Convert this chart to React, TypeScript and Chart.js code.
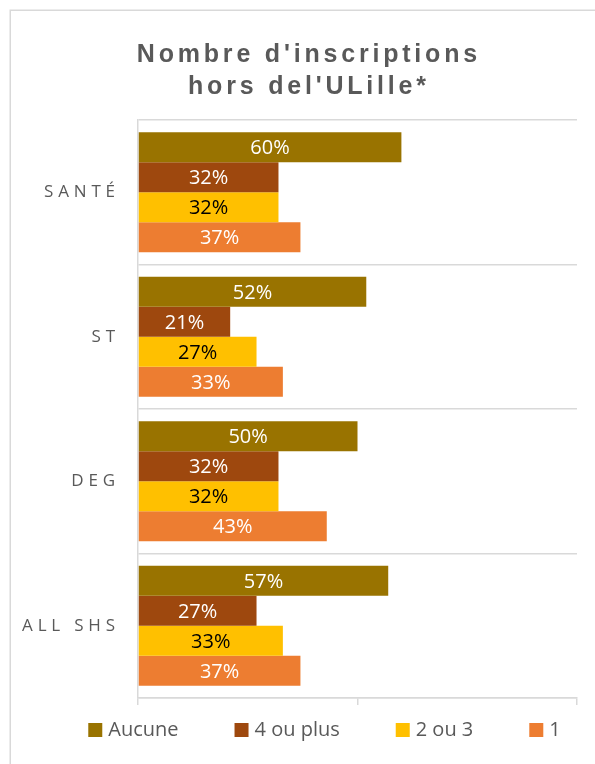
import React, { useEffect, useRef } from 'react';
import { Chart, registerables } from 'chart.js';

Chart.register(...registerables);

const categories = ['SANTÉ', 'ST', 'DEG', 'ALL SHS'];
const seriesNames = ['Aucune', '4 ou plus', '2 ou 3', '1'];
const aucune = [60, 52, 50, 57];
const quatreOuPlus = [32, 21, 32, 27];
const deuxOuTrois = [32, 27, 32, 33];
const un = [37, 33, 43, 37];
const seriesColors = ['#997300', '#9E480E', '#FFC000', '#ED7D31'];
const valueLabelColors = ['#FFFFFF', '#FFFFFF', '#000000', '#FFFFFF'];
const titleLines = ["Nombre d'inscriptions", "hors del'ULille*"];
const xMin = 0;
const xMax = 100;
const xStep = 50;

const TEXT_GREY = '#595959';
const LINE_GREY = '#d9d9d9';
const SANS = '"Open Sans", "Noto Sans", sans-serif';

function spacedWidth(ctx: CanvasRenderingContext2D, text: string, spacing: number) {
  (ctx as any).letterSpacing = '0px';
  const w = ctx.measureText(text).width;
  return w + spacing * Math.max(0, Array.from(text).length - 1);
}

function drawSpaced(ctx: CanvasRenderingContext2D, text: string, x: number, y: number, spacing: number) {
  (ctx as any).letterSpacing = spacing + 'px';
  ctx.textAlign = 'left';
  ctx.fillText(text, x, y);
  (ctx as any).letterSpacing = '0px';
}

const framePlugin = {
  id: 'frame',
  beforeDraw(chart: any) {
    const ctx = chart.ctx as CanvasRenderingContext2D;
    ctx.save();
    ctx.strokeStyle = LINE_GREY;
    ctx.lineWidth = 1.5;
    ctx.strokeRect(10.25, 10.25, chart.width + 100, chart.height + 100);
    ctx.restore();
  },
};

const textPlugin = {
  id: 'texts',
  afterDatasetsDraw(chart: any) {
    const ctx = chart.ctx as CanvasRenderingContext2D;
    ctx.save();
    ctx.font = `20px ${SANS}`;
    ctx.textAlign = 'center';
    ctx.textBaseline = 'middle';
    chart.data.datasets.forEach((ds: any, di: number) => {
      const meta = chart.getDatasetMeta(di);
      ctx.fillStyle = valueLabelColors[di];
      meta.data.forEach((bar: any, i: number) => {
        const { x, y, base } = bar.getProps(['x', 'y', 'base'], true);
        ctx.fillText(`${ds.data[i]}%`, (x + base) / 2, y + 1.5);
      });
    });
    ctx.restore();
  },
  afterDraw(chart: any) {
    const ctx = chart.ctx as CanvasRenderingContext2D;
    ctx.save();
    ctx.fillStyle = TEXT_GREY;

    // Title
    ctx.font = `bold 25px "Liberation Sans", Arial, sans-serif`;
    ctx.textBaseline = 'alphabetic';
    const titleCenter = 307;
    const titleSpacing = 3.8;
    titleLines.forEach((line, i) => {
      const w = spacedWidth(ctx, line, titleSpacing);
      drawSpaced(ctx, line, titleCenter - w / 2, 62 + i * 31.5, titleSpacing);
    });

    // Category labels
    const yScale = chart.scales.y;
    ctx.font = `17px ${SANS}`;
    ctx.textBaseline = 'middle';
    const catSpacing = 4.8;
    categories.forEach((c, i) => {
      const w = spacedWidth(ctx, c, catSpacing);
      const y = yScale.getPixelForValue(i);
      drawSpaced(ctx, c, chart.chartArea.left - 23 - w, y, catSpacing);
    });

    // Legend
    ctx.font = `20px ${SANS}`;
    ctx.textBaseline = 'middle';
    const box = 14;
    const boxGap = 6;
    const itemGap = 56;
    const items = chart.data.datasets.map((ds: any) => ({
      label: ds.label as string,
      color: ds.backgroundColor as string,
      w: box + boxGap + ctx.measureText(ds.label).width,
    }));
    const total = items.reduce((s: number, it: any) => s + it.w, 0) + itemGap * (items.length - 1);
    const legendCenter = 324.5;
    const legendY = 730;
    let lx = legendCenter - total / 2;
    items.forEach((it: any) => {
      ctx.fillStyle = it.color;
      ctx.fillRect(lx, legendY - box / 2, box, box);
      ctx.fillStyle = TEXT_GREY;
      ctx.textAlign = 'left';
      ctx.fillText(it.label, lx + box + boxGap, legendY);
      lx += it.w + itemGap;
    });
    ctx.restore();
  },
};

export default function App() {
  const canvasRef = useRef<HTMLCanvasElement | null>(null);

  useEffect(() => {
    if (!canvasRef.current) return;
    const seriesValues = [aucune, quatreOuPlus, deuxOuTrois, un];
    const chart = new Chart(canvasRef.current, {
      type: 'bar',
      data: {
        labels: categories,
        datasets: seriesNames.map((name, i) => ({
          label: name,
          data: seriesValues[i],
          backgroundColor: seriesColors[i],
          borderWidth: 0,
          categoryPercentage: 0.83,
          barPercentage: 1,
        })),
      },
      options: {
        indexAxis: 'y',
        responsive: false,
        animation: false,
        devicePixelRatio: 1,
        layout: { padding: { left: 138, right: 18, top: 120, bottom: 59 } },
        plugins: {
          legend: { display: false },
          title: { display: false },
          tooltip: { enabled: false },
        },
        scales: {
          x: {
            min: xMin,
            max: xMax,
            ticks: { display: false, stepSize: xStep },
            grid: {
              drawOnChartArea: false,
              drawTicks: true,
              tickLength: 7,
              color: LINE_GREY,
              lineWidth: 1.5,
            },
            border: { display: true, color: LINE_GREY, width: 1.5 },
          },
          y: {
            ticks: { display: false },
            grid: {
              offset: true,
              drawTicks: false,
              color: LINE_GREY,
              lineWidth: 1.5,
            },
            border: { display: true, color: LINE_GREY, width: 1.5 },
          },
        },
      } as any,
      plugins: [framePlugin, textPlugin],
    });
    return () => chart.destroy();
  }, []);

  return (
    <div style={{ position: 'absolute', left: 0, top: 0, width: 595, height: 764, overflow: 'hidden', background: '#fff' }}>
      <canvas ref={canvasRef} width={595} height={764} style={{ display: 'block' }} />
    </div>
  );
}
